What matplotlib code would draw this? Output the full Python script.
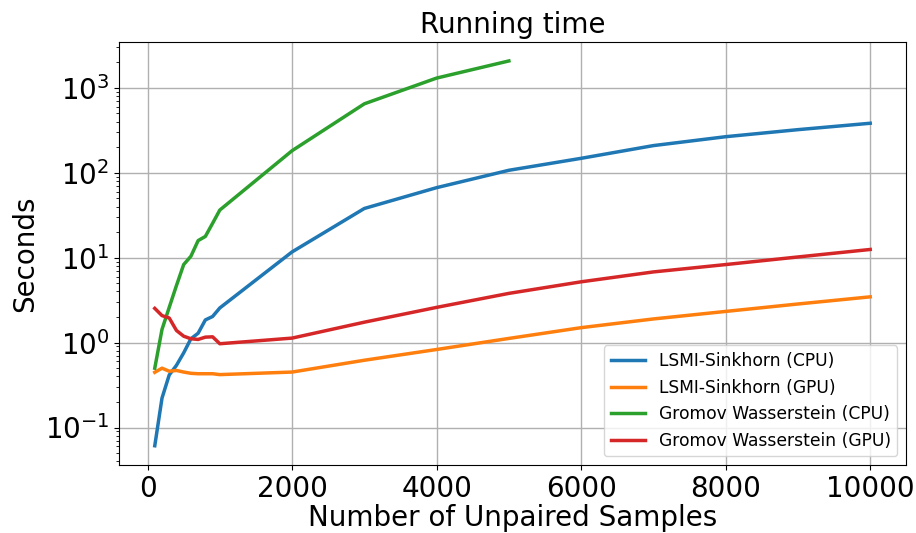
import matplotlib
matplotlib.use("Agg")
import matplotlib.pyplot as plt

# Sample counts for the fine (100-1000) and coarse (2000-10000) ranges
n_small = [100, 200, 300, 400, 500, 600, 700, 800, 900, 1000]
n_large = [2000, 3000, 4000, 5000, 6000, 7000, 8000, 9000, 10000]
n_all = n_small + n_large

# Running time in seconds
lsmi_cpu = [0.061, 0.222, 0.416, 0.54, 0.757, 1.11, 1.29, 1.85, 2.03, 2.56,
            11.7, 38.0, 66.8, 107, 148, 209, 266, 322, 383]
lsmi_gpu = [0.447, 0.50, 0.46, 0.47, 0.45, 0.435, 0.43, 0.43, 0.43, 0.42,
            0.45, 0.62, 0.83, 1.12, 1.50, 1.90, 2.33, 2.85, 3.46]
gw_cpu_n = [100, 200, 300, 400, 500, 600, 700, 800, 900, 1000,
            2000, 3000, 4000, 5000]
gw_cpu = [0.50, 1.43, 2.6, 4.7, 8.3, 10.4, 15.9, 17.8, 25.4, 36.4,
          182, 649, 1304, 2075]
gw_gpu = [2.53, 2.08, 1.95, 1.39, 1.19, 1.11, 1.09, 1.16, 1.17, 0.97,
          1.13, 1.74, 2.6, 3.8, 5.2, 6.8, 8.3, 10.2, 12.5]

labels = ["LSMI-Sinkhorn (CPU)", "LSMI-Sinkhorn (GPU)",
          "Gromov Wasserstein (CPU)", "Gromov Wasserstein (GPU)"]

fig = plt.figure(figsize=(9.16, 5.33), dpi=100)
ax = fig.add_axes([119 / 916, 1 - 465 / 533, (906 - 119) / 916, (465 - 41.7) / 533])

lw = 2.5
ax.plot(n_all, lsmi_cpu, color="#1f77b4", lw=lw, label=labels[0])
ax.plot(n_all, lsmi_gpu, color="#ff7f0e", lw=lw, label=labels[1])
ax.plot(gw_cpu_n, gw_cpu, color="#2ca02c", lw=lw, label=labels[2])
ax.plot(n_all, gw_gpu, color="#d62728", lw=lw, label=labels[3])

ax.set_yscale("log")
ax.grid(True, which="major", color="#b0b0b0", lw=1.0)
ax.set_title("Running time", fontsize=20)
ax.set_xlabel("Number of Unpaired Samples", fontsize=20, labelpad=1)
ax.set_ylabel("Seconds", fontsize=20)
ax.tick_params(axis="both", which="major", labelsize=20)
ax.set_xticks([0, 2000, 4000, 6000, 8000, 10000])
ax.legend(loc="lower right", fontsize=12.3)

fig.savefig("out.png", dpi=100)
